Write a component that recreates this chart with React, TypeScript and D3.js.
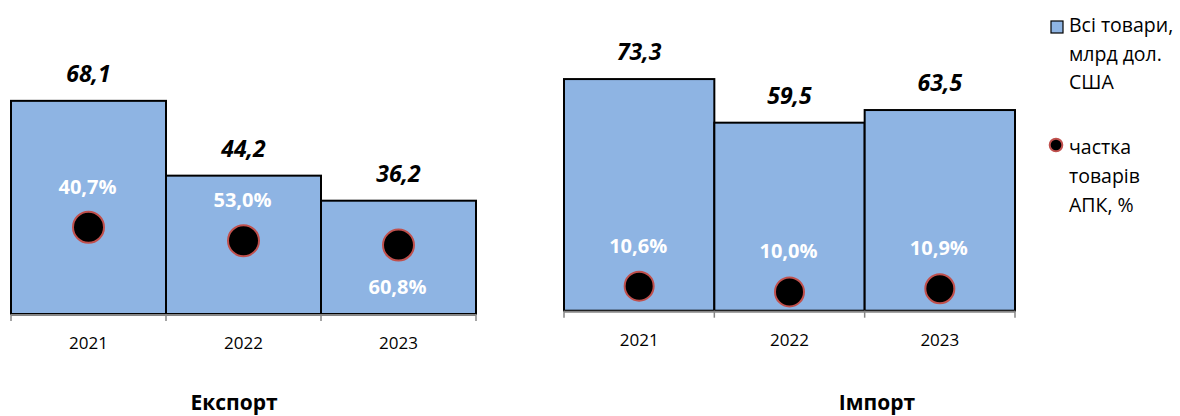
import React from "react";
import * as d3 from "d3";

const years = ["2021", "2022", "2023"];
const exportTotals = [68.1, 44.2, 36.2];
const exportShares = [40.7, 53.0, 60.8];
const exportShareLabelSide = ["above", "above", "below"];
const importTotals = [73.3, 59.5, 63.5];
const importShares = [10.6, 10.0, 10.9];
const importShareLabelSide = ["above", "above", "above"];
const legendBarLines = ["Всі товари,", "млрд дол.", "США"];
const legendDotLines = ["частка", "товарів", "АПК, %"];
const panelTitles = ["Експорт", "Імпорт"];

const FONT = "'Open Sans', 'Noto Sans', sans-serif";
const BAR_FILL = "#8EB4E3";
const DOT_STROKE = "#C0504D";
const AXIS_GRAY = "#868686";

const fmt = (v: number) => v.toFixed(1).replace(".", ",");

type PanelProps = {
  totals: number[];
  shares: number[];
  sides: string[];
  x0: number;
  x1: number;
  base: number;
  pxPerUnit: number;
  dotR: number;
  title: string;
  titleX: number;
};

function Panel({ totals, shares, sides, x0, x1, base, pxPerUnit, dotR, title, titleX }: PanelProps) {
  const x = d3.scaleBand<string>().domain(years).range([x0, x1]).padding(0);
  const y = d3.scaleLinear().domain([0, 100]).range([base, base - 100 * pxPerUnit]);
  const bw = x.bandwidth();
  const tickXs = [...years.map((yr) => x(yr)!), x1];
  return (
    <g>
      {years.map((yr, i) => (
        <rect
          key={"b" + yr}
          x={x(yr)!}
          y={y(totals[i])}
          width={bw}
          height={y(0) - y(totals[i])}
          fill={BAR_FILL}
          stroke="#000"
          strokeWidth={2}
        />
      ))}
      <line x1={x0} x2={x1} y1={base + 1} y2={base + 1} stroke={AXIS_GRAY} strokeWidth={2} />
      {tickXs.map((tx, i) => (
        <line key={"t" + i} x1={tx} x2={tx} y1={base} y2={base + 7} stroke={AXIS_GRAY} strokeWidth={1.5} />
      ))}
      {years.map((yr, i) => (
        <text
          key={"v" + yr}
          x={x(yr)! + bw / 2}
          y={y(totals[i]) - 19}
          textAnchor="middle"
          fontFamily={FONT}
          fontWeight="bold"
          fontStyle="italic"
          fontSize={23}
          fill="#000"
        >
          {fmt(totals[i])}
        </text>
      ))}
      {years.map((yr, i) => {
        const dv = (totals[i] * shares[i]) / 100;
        const cy = y(dv);
        const cx = x(yr)! + bw / 2;
        const ly = sides[i] === "below" ? cy + 41 : cy - 41;
        return (
          <g key={"d" + yr}>
            <circle cx={cx} cy={cy} r={dotR} fill="#000" stroke={DOT_STROKE} strokeWidth={2} />
            <text
              x={cx - 1}
              y={ly + 7.5}
              textAnchor="middle"
              fontFamily={FONT}
              fontWeight="bold"
              fontSize={20}
              fill="#fff"
            >
              {fmt(shares[i]) + "%"}
            </text>
          </g>
        );
      })}
      {years.map((yr) => (
        <text
          key={"y" + yr}
          x={x(yr)! + bw / 2}
          y={base + 35}
          textAnchor="middle"
          fontFamily={FONT}
          fontSize={17}
          fill="#000"
        >
          {yr}
        </text>
      ))}
      <text x={titleX} y={410} textAnchor="middle" fontFamily={FONT} fontWeight="bold" fontSize={21} fill="#000">
        {title}
      </text>
    </g>
  );
}

export default function App() {
  return (
    <svg
      width={1180}
      height={416}
      style={{ position: "absolute", left: 0, top: 0, background: "#fff" }}
    >
      <rect x={0} y={0} width={1180} height={416} fill="#fff" />
      <Panel
        totals={exportTotals}
        shares={exportShares}
        sides={exportShareLabelSide}
        x0={11}
        x1={476}
        base={314}
        pxPerUnit={3.13}
        dotR={15.5}
        title={panelTitles[0]}
        titleX={234}
      />
      <Panel
        totals={importTotals}
        shares={importShares}
        sides={importShareLabelSide}
        x0={564}
        x1={1015}
        base={310.7}
        pxPerUnit={3.16}
        dotR={14.5}
        title={panelTitles[1]}
        titleX={877}
      />
      <g>
        <rect x={1051} y={21} width={12} height={12} fill={BAR_FILL} stroke="#000" strokeWidth={1.2} />
        {legendBarLines.map((t, i) => (
          <text key={"lb" + i} x={1069} y={32 + i * 28.5} fontFamily={FONT} fontSize={19.5} fill="#000">
            {t}
          </text>
        ))}
        <circle cx={1056} cy={145} r={6.3} fill="#000" stroke={DOT_STROKE} strokeWidth={2} />
        {legendDotLines.map((t, i) => (
          <text key={"ld" + i} x={1069} y={154 + i * 29} fontFamily={FONT} fontSize={19.5} fill="#000">
            {t}
          </text>
        ))}
      </g>
    </svg>
  );
}
